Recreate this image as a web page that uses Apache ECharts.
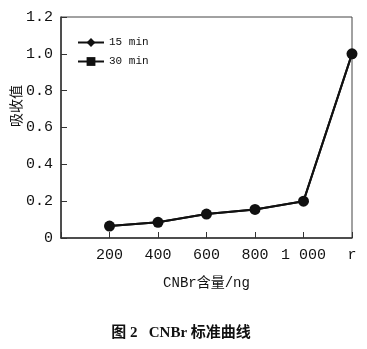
<!DOCTYPE html>
<html><head><meta charset="utf-8">
<script src="https://cdn.jsdelivr.net/npm/echarts@6/dist/echarts.min.js"></script>
<style>html,body{margin:0;padding:0;background:#fff}#c{width:367px;height:349px}</style>
</head><body><div id="c"></div>
<script>
var xValues = [200, 400, 600, 800, 1000, 1200];
var xTickLabels = {0: '', 200: '200', 400: '400', 600: '600', 800: '800', 1000: '1 000', 1200: 'r'};
var series15 = [0.065, 0.085, 0.13, 0.155, 0.2, 1.0];
var series30 = [0.065, 0.085, 0.13, 0.155, 0.2, 1.0];
var seriesNames = ['15 min', '30 min'];
var yAxisName = '吸收值';
var xAxisName = 'CNBr含量/ng';
var caption = '图 2   CNBr 标准曲线';

function pairs(vals){ return xValues.map(function(x,i){ return {value: [x, vals[i]], symbol: 'circle'}; }); }

var chart = echarts.init(document.getElementById('c'), null, {renderer:'canvas'});
var mono = '"Liberation Mono", "Noto Sans CJK SC", monospace';
chart.setOption({
  animation: false,
  backgroundColor: '#fff',
  grid: {left: 61, right: 15, top: 17, bottom: 111, show: true, borderColor: '#444', borderWidth: 1},
  legend: {
    left: 77, top: 37, padding: 0, orient: 'vertical', itemGap: 8, itemWidth: 26, itemHeight: 11,
    textStyle: {fontFamily: mono, fontSize: 11, color: '#111'},
    data: [seriesNames[0], seriesNames[1]]
  },
  xAxis: {
    type: 'value', min: 0, max: 1200, interval: 200,
    axisLine: {lineStyle: {color: '#333', width: 1.5}},
    axisTick: {inside: true, length: 6, lineStyle: {color: '#333'}},
    splitLine: {show: false},
    axisLabel: {fontFamily: mono, fontSize: 15, color: '#111', margin: 10,
      formatter: function(v){ return xTickLabels[v] !== undefined ? xTickLabels[v] : ''; }},
    name: xAxisName, nameLocation: 'middle', nameGap: 38,
    nameTextStyle: {fontFamily: mono, fontSize: 14, color: '#111'}
  },
  yAxis: {
    type: 'value', min: 0, max: 1.2, interval: 0.2,
    axisLine: {lineStyle: {color: '#333', width: 1.5}},
    axisTick: {inside: true, length: 6, lineStyle: {color: '#333'}},
    splitLine: {show: false},
    axisLabel: {fontFamily: mono, fontSize: 15, color: '#111', margin: 8,
      formatter: function(v){ return v === 0 ? '0' : v.toFixed(1); }}
  },
  series: [
    {name: seriesNames[0], type: 'line', data: pairs(series15), symbol: 'diamond', symbolSize: 11,
     lineStyle: {color: '#111', width: 2}, itemStyle: {color: '#111'}},
    {name: seriesNames[1], type: 'line', data: pairs(series30), symbol: 'rect', symbolSize: 9,
     lineStyle: {color: '#111', width: 2}, itemStyle: {color: '#111'}}
  ],
  graphic: [{
    type: 'text', x: 16, y: 106, rotation: Math.PI / 2,
    style: {text: yAxisName, align: 'center', verticalAlign: 'middle',
      fontFamily: '"Noto Sans CJK SC", sans-serif', fontSize: 14, fill: '#111'}
  }, {
    type: 'text', x: 181, y: 333,
    style: {text: caption, align: 'center', verticalAlign: 'middle',
      fontFamily: '"Liberation Serif", "Noto Sans CJK SC", serif', fontWeight: 'bold', fontSize: 15, fill: '#111'}
  }]
});
</script></body></html>
